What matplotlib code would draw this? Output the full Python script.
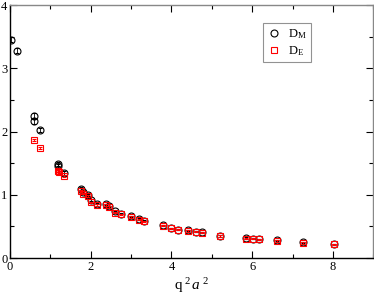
import numpy as np
import matplotlib.pyplot as plt
from matplotlib.ticker import MultipleLocator
from matplotlib.lines import Line2D

plt.rcParams['font.family'] = ['Liberation Serif', 'DejaVu Serif']
plt.rcParams['mathtext.fontset'] = 'custom'
plt.rcParams['mathtext.rm'] = 'Liberation Serif'
plt.rcParams['mathtext.it'] = 'Liberation Serif:italic'

# ====== dados ======
xM = [0.02, 0.17, 0.59, 0.59, 0.75, 1.18, 1.18, 1.34, 1.76, 1.80, 1.92, 2.00,
      2.16, 2.38, 2.44, 2.60, 2.74, 2.99, 3.19, 3.32, 3.79, 4.00, 4.17, 4.41,
      4.60, 4.75, 5.21, 5.85, 6.01, 6.17, 6.61, 7.26, 8.02]
yM = [3.45, 3.28, 2.25, 2.16, 2.03, 1.49, 1.46, 1.34, 1.10, 1.05, 1.00, 0.92,
      0.86, 0.85, 0.82, 0.74, 0.70, 0.66, 0.62, 0.59, 0.52, 0.47, 0.45, 0.44,
      0.42, 0.41, 0.35, 0.32, 0.31, 0.30, 0.28, 0.25, 0.22]
eM = [0.04, 0.04, 0.04, 0.04, 0.03, 0.03, 0.03, 0.03, 0.02, 0.02, 0.02, 0.02,
      0.01, 0.01, 0.01, 0.01, 0.01, 0.01, 0.01, 0.01, 0.01, 0.01, 0.01, 0.01,
      0.01, 0.01, 0.01, 0.01, 0.01, 0.01, 0.01, 0.01, 0.01]

xE = [0.59, 0.75, 1.18, 1.20, 1.34, 1.76, 1.80, 1.92, 2.00, 2.16, 2.38, 2.44,
      2.60, 2.74, 2.99, 3.19, 3.32, 3.79, 4.00, 4.17, 4.41, 4.60, 4.75, 5.21,
      5.85, 6.01, 6.17, 6.61, 7.26, 8.02]
yE = [1.87, 1.74, 1.38, 1.36, 1.30, 1.06, 1.02, 0.98, 0.88, 0.84, 0.84, 0.81,
      0.72, 0.69, 0.65, 0.61, 0.58, 0.51, 0.47, 0.45, 0.43, 0.42, 0.40, 0.35,
      0.31, 0.31, 0.30, 0.27, 0.24, 0.22]
eE = [0.02, 0.02, 0.02, 0.02, 0.02, 0.01, 0.01, 0.01, 0.01, 0.01, 0.01, 0.01,
      0.01, 0.01, 0.01, 0.01, 0.01, 0.01, 0.01, 0.01, 0.01, 0.01, 0.01, 0.01,
      0.01, 0.01, 0.01, 0.01, 0.01, 0.01]

# ====== figura ======
fig = plt.figure(figsize=(3.74, 2.95), dpi=100)
ax = fig.add_axes([0.027, 0.125, 0.971, 0.858])

ax.errorbar(xM, yM, yerr=eM, fmt='o', ms=5, mfc='none', mec='black', mew=0.8,
            ecolor='black', elinewidth=0.6, capsize=1.5, capthick=0.6,
            zorder=2)
ax.errorbar(xE, yE, yerr=eE, fmt='s', ms=4.5, mfc='none', mec='red', mew=0.8,
            ecolor='red', elinewidth=0.6, capsize=1.5, capthick=0.6,
            zorder=3)

ax.set_xlim(0, 9)
ax.set_ylim(0, 4)
ax.xaxis.set_major_locator(MultipleLocator(2))
ax.xaxis.set_minor_locator(MultipleLocator(1))
ax.yaxis.set_major_locator(MultipleLocator(1))
ax.yaxis.set_minor_locator(MultipleLocator(0.5))
ax.tick_params(which='both', direction='in', top=True, right=True,
               labelsize=9, width=0.8, pad=2)
ax.tick_params(which='major', length=5)
ax.tick_params(which='minor', length=3)

for s in ['left', 'bottom']:
    ax.spines[s].set_color('black')
    ax.spines[s].set_linewidth(1.0)
for s in ['top', 'right']:
    ax.spines[s].set_color('#888888')
    ax.spines[s].set_linewidth(1.0)

ax.set_xlabel(r'q$^{\ 2}$$\,a^{\ 2}$', fontsize=11, labelpad=2)

# legenda só com os marcadores
handles = [Line2D([], [], ls='none', marker='o', ms=5, mfc='none', mec='black', mew=0.8),
           Line2D([], [], ls='none', marker='s', ms=4.5, mfc='none', mec='red', mew=0.8)]
leg = ax.legend(handles, [r'D$_\mathrm{M}$', r'D$_\mathrm{E}$'],
                loc='upper left', bbox_to_anchor=(0.697, 0.93), borderaxespad=0,
                fontsize=9, frameon=True, fancybox=False, handletextpad=0.6,
                handlelength=1.0, borderpad=0.35, labelspacing=0.25)
leg.get_frame().set_edgecolor('#777777')
leg.get_frame().set_linewidth(0.8)

fig.savefig('out.png', dpi=100)
